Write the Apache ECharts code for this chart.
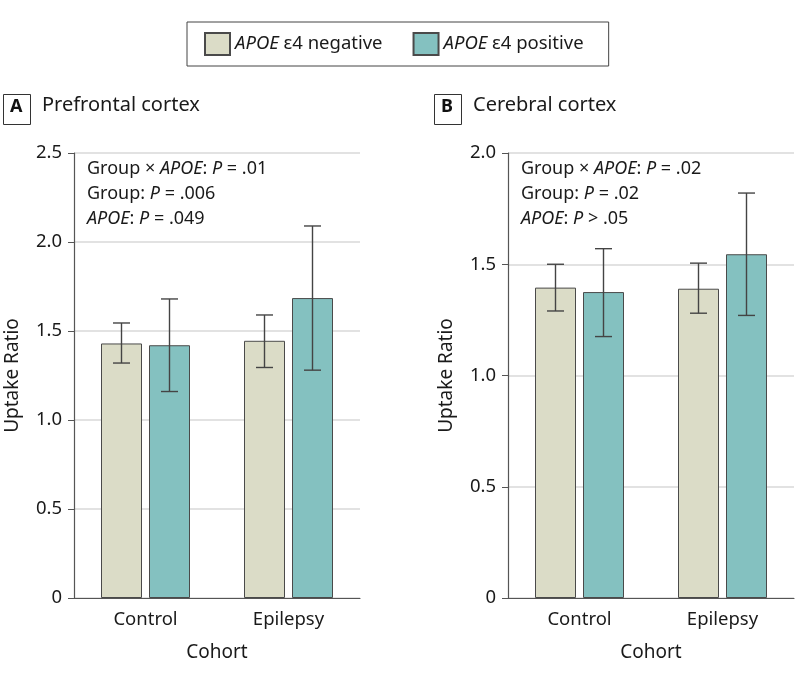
<!DOCTYPE html>
<html>
<head>
<meta charset="utf-8">
<script src="https://cdn.jsdelivr.net/npm/echarts@6/dist/echarts.min.js"></script>
<style>html,body{margin:0;padding:0;background:#fff}#c{width:798px;height:683px}</style>
</head>
<body>
<div id="c"></div>
<script>
// ---- data ----
const categories = ['Control', 'Epilepsy'];
const seriesNames = ['APOE ε4 negative', 'APOE ε4 positive'];
// Panel A: Prefrontal cortex
const prefrontalNeg = [1.43, 1.445];
const prefrontalNegLow = [1.32, 1.295];
const prefrontalNegHigh = [1.545, 1.59];
const prefrontalPos = [1.42, 1.685];
const prefrontalPosLow = [1.16, 1.28];
const prefrontalPosHigh = [1.68, 2.09];
// Panel B: Cerebral cortex
const cerebralNeg = [1.395, 1.39];
const cerebralNegLow = [1.29, 1.28];
const cerebralNegHigh = [1.50, 1.505];
const cerebralPos = [1.375, 1.545];
const cerebralPosLow = [1.175, 1.27];
const cerebralPosHigh = [1.57, 1.82];
// tick labels
const prefrontalTicks = ['0', '0.5', '1.0', '1.5', '2.0', '2.5'];
const cerebralTicks = ['0', '0.5', '1.0', '1.5', '2.0'];
const stats = {
  A: [['Group × ', 'APOE', ': ', 'P', ' = .01'], ['Group: ', '', '', 'P', ' = .006'], ['', 'APOE', ': ', 'P', ' = .049']],
  B: [['Group × ', 'APOE', ': ', 'P', ' = .02'], ['Group: ', '', '', 'P', ' = .02'], ['', 'APOE', ': ', 'P', ' > .05']]
};

// ---- styles ----
const FONT = 'Noto Sans';
const TXT = '#1a1a1a';
const NEG_COLOR = '#dbdcc7';
const POS_COLOR = '#84c1c0';
const EDGE = '#4a4a4a';
const BAR_W = 41, GAP_PX = 7;
const OFFSET = (BAR_W + GAP_PX) / 2;

function errSeries(name, xIdx, low, high, sign) {
  return {
    type: 'custom', name: name + ' err', xAxisIndex: xIdx, yAxisIndex: xIdx, z: 5,
    data: categories.map((c, i) => [i, low[i], high[i]]),
    renderItem: function (params, api) {
      const pl = api.coord([api.value(0), api.value(1)]);
      const ph = api.coord([api.value(0), api.value(2)]);
      const x = pl[0] + sign * OFFSET;
      const h = 8.5;
      const st = { stroke: '#444', lineWidth: 1.4 };
      return { type: 'group', children: [
        { type: 'line', shape: { x1: x, y1: pl[1], x2: x, y2: ph[1] }, style: st },
        { type: 'line', shape: { x1: x - h, y1: ph[1], x2: x + h, y2: ph[1] }, style: st },
        { type: 'line', shape: { x1: x - h, y1: pl[1], x2: x + h, y2: pl[1] }, style: st }
      ]};
    },
    silent: true
  };
}
function barSeries(name, xIdx, vals, color) {
  return {
    type: 'bar', name: name, xAxisIndex: xIdx, yAxisIndex: xIdx,
    data: vals, barWidth: BAR_W, barGap: (GAP_PX / BAR_W * 100) + '%',
    itemStyle: { color: color, borderColor: EDGE, borderWidth: 1 }
  };
}
function xAx(gi) {
  return {
    type: 'category', gridIndex: gi, data: categories,
    axisLine: { lineStyle: { color: '#555', width: 1.2 } },
    axisTick: { show: false },
    axisLabel: { fontFamily: FONT, fontSize: 18.5, color: TXT, margin: 12 },
    name: 'Cohort', nameLocation: 'middle', nameGap: 45,
    nameTextStyle: { fontFamily: FONT, fontSize: 19, color: TXT }
  };
}
function yAx(gi, max, ticks) {
  return {
    type: 'value', gridIndex: gi, min: 0, max: max, interval: 0.5,
    axisLine: { show: true, lineStyle: { color: '#555', width: 1.2 } },
    axisTick: { show: true, length: 6, lineStyle: { color: '#555' } },
    axisLabel: { fontFamily: FONT, fontSize: 18.5, color: TXT, margin: 12,
      formatter: v => ticks[Math.round(v / 0.5)] },
    splitLine: { show: true, lineStyle: { color: '#d9d9d9', width: 1.5 } },
    name: 'Uptake Ratio', nameLocation: 'middle', nameGap: 52,
    nameTextStyle: { fontFamily: FONT, fontSize: 19, color: TXT }
  };
}
function statText(lines, x) {
  const rich = {
    n: { fontFamily: FONT, fontSize: 18, fill: TXT },
    i: { fontFamily: FONT, fontSize: 18, fontStyle: 'italic', fill: TXT }
  };
  return lines.map((l, k) => {
    let s = '';
    if (l[0]) s += '{n|' + l[0] + '}';
    if (l[1]) s += '{i|' + l[1] + '}';
    if (l[2]) s += '{n|' + l[2] + '}';
    s += '{i|' + l[3] + '}{n|' + l[4] + '}';
    return { type: 'text', left: x, top: 160 + k * 25, z: 10,
      style: { text: s, rich: rich, fill: TXT, font: '18px "' + FONT + '"' } };
  });
}
function panelLabel(letter, title, x) {
  return [
    { type: 'rect', left: x, top: 94, shape: { width: 27, height: 30 },
      style: { fill: '#fff', stroke: '#333', lineWidth: 1 } },
    { type: 'text', left: x + 7, top: 98, style: { text: letter, font: 'bold 18px "' + FONT + '"', fill: '#111' } },
    { type: 'text', left: x + 39, top: 95, style: { text: title, font: '20px "' + FONT + '"', fill: TXT } }
  ];
}

const chart = echarts.init(document.getElementById('c'));
chart.setOption({
  backgroundColor: '#fff',
  animation: false,
  legend: {
    data: seriesNames, left: 187, top: 22, orient: 'horizontal',
    padding: [10, 25, 10, 17], itemGap: 30, itemWidth: 25, itemHeight: 22,
    borderColor: '#444', borderWidth: 1, icon: 'rect', selectedMode: false,
    formatter: n => '{i|APOE}' + n.slice(4),
    textStyle: { fontFamily: FONT, fontSize: 18.5, color: TXT,
      rich: { i: { fontFamily: FONT, fontSize: 18.5, fontStyle: 'italic', color: TXT } } }
  },
  grid: [
    { left: 74, top: 153, width: 286, bottom: 85 },
    { left: 508, top: 153, width: 286, bottom: 85 }
  ],
  xAxis: [xAx(0), xAx(1)],
  yAxis: [yAx(0, 2.5, prefrontalTicks), yAx(1, 2.0, cerebralTicks)],
  series: [
    barSeries(seriesNames[0], 0, prefrontalNeg, NEG_COLOR),
    barSeries(seriesNames[1], 0, prefrontalPos, POS_COLOR),
    barSeries(seriesNames[0], 1, cerebralNeg, NEG_COLOR),
    barSeries(seriesNames[1], 1, cerebralPos, POS_COLOR),
    errSeries('a0', 0, prefrontalNegLow, prefrontalNegHigh, -1),
    errSeries('a1', 0, prefrontalPosLow, prefrontalPosHigh, 1),
    errSeries('b0', 1, cerebralNegLow, cerebralNegHigh, -1),
    errSeries('b1', 1, cerebralPosLow, cerebralPosHigh, 1)
  ],
  graphic: [].concat(
    panelLabel('A', 'Prefrontal cortex', 3),
    panelLabel('B', 'Cerebral cortex', 434),
    statText(stats.A, 87),
    statText(stats.B, 521)
  )
});
</script>
</body>
</html>
